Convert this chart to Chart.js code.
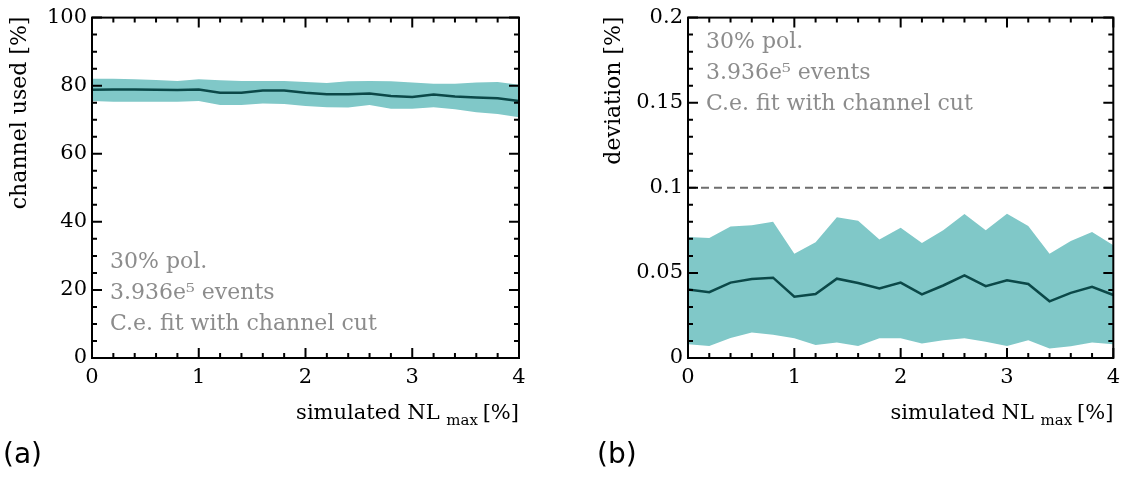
<!DOCTYPE html>
<html lang="en">
<head>
<meta charset="UTF-8" />
<title>Channel cut study</title>
<script src="https://cdn.jsdelivr.net/npm/chart.js@4/dist/chart.umd.min.js"></script>
<style>
  body { margin: 0; background: #fff; }
  .panel { position: absolute; top: 0; }
</style>
</head>
<body>
<canvas id="left" class="panel" style="left:0" width="560" height="477"></canvas>
<canvas id="right" class="panel" style="left:560px" width="567" height="477"></canvas>

<script>
// simulated NL_max [%]
const nlMax = [0, 0.2, 0.4, 0.6, 0.8, 1, 1.2, 1.4, 1.6, 1.8, 2, 2.2, 2.4, 2.6, 2.8, 3, 3.2, 3.4, 3.6, 3.8, 4];

// (a) channel used [%]
const usedMean  = [78.8, 78.9, 78.9, 78.8, 78.7, 78.9, 77.9, 77.9, 78.6, 78.6, 77.9, 77.5, 77.5, 77.7, 77.0, 76.7, 77.4, 76.8, 76.5, 76.3, 75.5];
const usedUpper = [82.0, 82.0, 81.9, 81.7, 81.4, 81.9, 81.6, 81.4, 81.4, 81.4, 81.1, 80.8, 81.3, 81.4, 81.3, 80.9, 80.6, 80.6, 80.9, 81.1, 80.3];
const usedLower = [75.5, 75.3, 75.3, 75.3, 75.3, 75.5, 74.3, 74.3, 74.8, 74.6, 74.0, 73.7, 73.6, 74.3, 73.2, 73.2, 73.7, 73.1, 72.2, 71.7, 70.7];

// (b) deviation [%]
const devMean  = [0.0403, 0.0387, 0.0443, 0.0464, 0.0472, 0.0360, 0.0376, 0.0466, 0.0441, 0.0408, 0.0443, 0.0374, 0.0426, 0.0486, 0.0422, 0.0457, 0.0435, 0.0333, 0.0383, 0.0418, 0.0370];
const devUpper = [0.0711, 0.0705, 0.0773, 0.0780, 0.0800, 0.0613, 0.0680, 0.0827, 0.0807, 0.0696, 0.0765, 0.0676, 0.0750, 0.0846, 0.0750, 0.0848, 0.0775, 0.0613, 0.0688, 0.0740, 0.0663];
const devLower = [0.0081, 0.0071, 0.0118, 0.0150, 0.0137, 0.0116, 0.0077, 0.0091, 0.0071, 0.0116, 0.0116, 0.0085, 0.0104, 0.0116, 0.0096, 0.0071, 0.0104, 0.0056, 0.0069, 0.0091, 0.0081];
const devLimit = [0.1, 0.1];
const limitX = [0, 4];

const infoLines = ["30% pol.", "3.936e\u2075 events", "C.e. fit with channel cut"];

const SERIF = "'DejaVu Serif', 'Liberation Serif', serif";
const BAND = "#80c8c8";
const LINE = "#0b4848";
const GREY = "#8c8c8c";

const pts = (xs, ys) => xs.map((x, i) => ({ x, y: ys[i] }));

// frame + inward ticks on all four sides, plus the text bits
const framePlugin = {
  id: "frame",
  afterDraw(chart, args, o) {
    const { ctx, chartArea: a, scales } = chart;
    const xs = scales.x, ys = scales.y;
    ctx.save();
    ctx.strokeStyle = "#000";
    ctx.lineWidth = 2;
    ctx.strokeRect(a.left, a.top, a.right - a.left, a.bottom - a.top);

    const tick = (px, horiz, len) => {
      ctx.beginPath();
      if (horiz) {
        ctx.moveTo(px, a.bottom); ctx.lineTo(px, a.bottom - len);
        ctx.moveTo(px, a.top); ctx.lineTo(px, a.top + len);
      } else {
        ctx.moveTo(a.left, px); ctx.lineTo(a.left + len, px);
        ctx.moveTo(a.right, px); ctx.lineTo(a.right - len, px);
      }
      ctx.stroke();
    };
    for (let i = 0; i <= Math.round((xs.max - xs.min) / o.xMinor); i++) {
      const v = xs.min + i * o.xMinor;
      const major = Math.abs(v / o.xMajor - Math.round(v / o.xMajor)) < 1e-6;
      tick(xs.getPixelForValue(v), true, major ? 10 : 5);
    }
    for (let i = 0; i <= Math.round((ys.max - ys.min) / o.yMinor); i++) {
      const v = ys.min + i * o.yMinor;
      const major = Math.abs(v / o.yMajor - Math.round(v / o.yMajor)) < 1e-6;
      tick(ys.getPixelForValue(v), false, major ? 10 : 5);
    }

    // y title, top aligned and rotated
    ctx.fillStyle = "#000";
    ctx.font = "22px " + SERIF;
    ctx.save();
    ctx.translate(o.yTitleX, a.top - 1);
    ctx.rotate(-Math.PI / 2);
    ctx.textAlign = "right";
    ctx.textBaseline = "middle";
    ctx.fillText(o.yTitle, 0, 0);
    ctx.restore();

    // x title with subscript, right aligned
    const main = "simulated NL ", sub = "max", tail = "[%]";
    ctx.textBaseline = "alphabetic";
    ctx.textAlign = "left";
    ctx.font = "21px " + SERIF;
    const w1 = ctx.measureText(main).width, w3 = ctx.measureText(tail).width;
    ctx.font = "15px " + SERIF;
    const w2 = ctx.measureText(sub + " ").width;
    let x = a.right - w1 - w2 - w3;
    const base = 419;
    ctx.font = "21px " + SERIF;
    ctx.fillText(main, x, base);
    ctx.font = "15px " + SERIF;
    ctx.fillText(sub, x + w1, base + 6);
    ctx.font = "21px " + SERIF;
    ctx.fillText(tail, x + w1 + w2, base);

    // info text
    ctx.fillStyle = GREY;
    ctx.font = "22px " + SERIF;
    ctx.textBaseline = "middle";
    infoLines.forEach((t, i) => ctx.fillText(t, a.left + 18, o.infoY + i * 31));

    // panel letter
    ctx.fillStyle = "#000";
    ctx.font = "28px 'DejaVu Sans', sans-serif";
    ctx.fillText(o.letter, o.letterX, 456);
    ctx.restore();
  }
};

function makeChart(id, cfg) {
  const canvas = document.getElementById(id);
  return new Chart(canvas.getContext("2d"), {
    type: "line",
    data: { datasets: cfg.datasets },
    options: {
      responsive: false,
      animation: false,
      layout: { padding: { top: 11, left: 0, right: canvas.width - cfg.right, bottom: 477 - 358 - 32 } },
      plugins: { legend: { display: false }, tooltip: { enabled: false }, frame: cfg.frame },
      elements: { point: { radius: 0 }, line: { tension: 0 } },
      scales: {
        x: {
          type: "linear", min: 0, max: 4,
          grid: { display: false, drawTicks: false },
          border: { display: false },
          ticks: { stepSize: 1, padding: 7, color: "#000", font: { family: SERIF, size: 21 } },
          afterFit: (s) => { s.height = 32; }
        },
        y: {
          min: cfg.yMin, max: cfg.yMax,
          grid: { display: false, drawTicks: false },
          border: { display: false },
          ticks: {
            stepSize: cfg.yStep, padding: 5, color: "#000", font: { family: SERIF, size: 21 },
            callback: (v) => String(+v.toFixed(2))
          },
          afterFit: (s) => { s.width = cfg.left; }
        }
      }
    },
    plugins: [framePlugin]
  });
}

function bandSets(upper, lower, mean) {
  return [
    { data: pts(nlMax, mean), borderColor: LINE, borderWidth: 2.5, fill: false, order: -1 },
    { data: pts(nlMax, upper), borderWidth: 0, backgroundColor: BAND, fill: "+1", order: 1 },
    { data: pts(nlMax, lower), borderWidth: 0, backgroundColor: BAND, fill: false, order: 1 }
  ];
}

makeChart("left", {
  left: 92, right: 519, yMin: 0, yMax: 100, yStep: 20,
  datasets: bandSets(usedUpper, usedLower, usedMean),
  frame: { xMajor: 1, xMinor: 0.2, yMajor: 20, yMinor: 5, yTitle: "channel used [%]", yTitleX: 20, infoY: 262, letter: "(a)", letterX: 3 }
});

makeChart("right", {
  left: 128, right: 554, yMin: 0, yMax: 0.2, yStep: 0.05,
  datasets: [
    ...bandSets(devUpper, devLower, devMean),
    { data: pts(limitX, devLimit), borderColor: "#6e6e6e", borderWidth: 2, borderDash: [8, 5], fill: false, order: 0 }
  ],
  frame: { xMajor: 1, xMinor: 0.2, yMajor: 0.05, yMinor: 0.01, yTitle: "deviation [%]", yTitleX: 54, infoY: 42, letter: "(b)", letterX: 37 }
});
</script>
</body>
</html>
